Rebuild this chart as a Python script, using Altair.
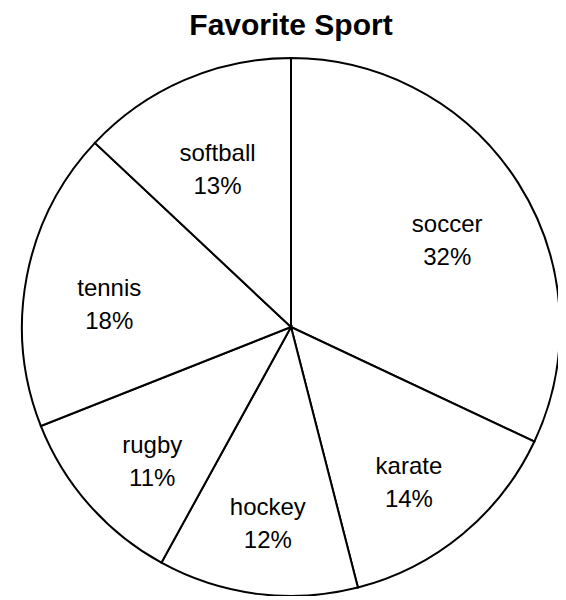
import altair as alt
import pandas as pd

sports = ["soccer", "karate", "hockey", "rugby", "tennis", "softball"]
percents = [32, 14, 12, 11, 18, 13]

df = pd.DataFrame({"sport": sports, "pct": percents, "order": list(range(len(sports)))})

base = alt.Chart(df).encode(
    theta=alt.Theta("pct:Q", stack=True),
    order=alt.Order("order:Q", sort="ascending"),
)

arcs = base.mark_arc(radius=269, fill="white", stroke="black", strokeWidth=2)

labels = base.transform_calculate(
    label="datum.sport + '\\n' + datum.pct + '%'"
).mark_text(
    radius=185,
    lineBreak="\n",
    font="Liberation Sans",
    fontSize=24,
    lineHeight=33,
    align="center",
    baseline="middle",
    dy=-3,
    color="black",
).encode(text="label:N")

chart = (arcs + labels).properties(
    width=534,
    height=538,
    padding={"left": 16, "top": 50, "right": 0, "bottom": 0},
    autosize=alt.AutoSizeParams(type="none"),
    title=alt.TitleParams(
        "Favorite Sport",
        font="Liberation Sans",
        fontSize=30,
        fontWeight="bold",
        color="black",
        anchor="middle",
        offset=13,
    ),
).configure_view(stroke=None)

chart.save("out.html", embed_options={"renderer": "svg", "actions": False})
